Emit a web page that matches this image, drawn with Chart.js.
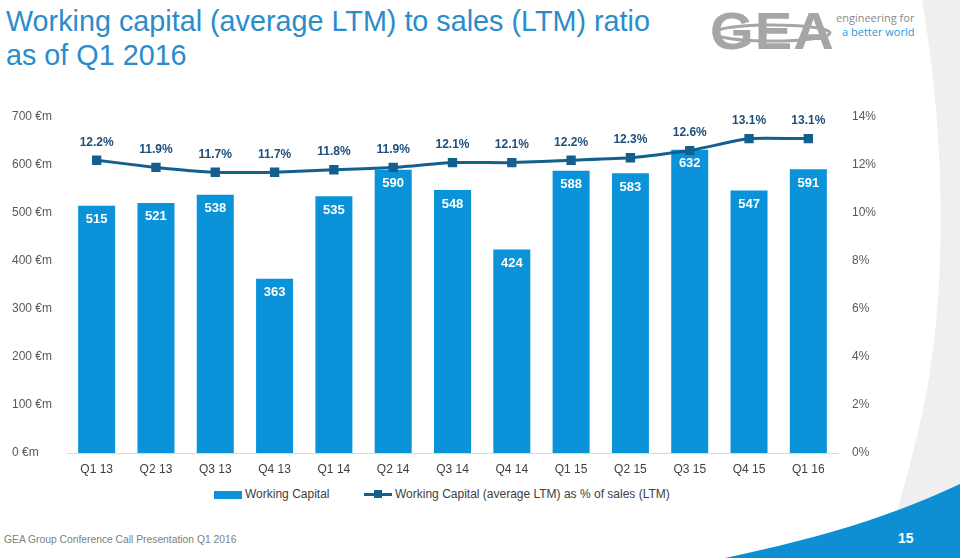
<!DOCTYPE html>
<html>
<head>
<meta charset="utf-8">
<script src="https://cdn.jsdelivr.net/npm/chart.js@4.4.1/dist/chart.umd.min.js"></script>
<style>
  html, body { margin: 0; padding: 0; background: #fff; }
  body { width: 960px; height: 558px; position: relative; overflow: hidden; font-family: "Liberation Sans", Arial, sans-serif; }
  #bg { position: absolute; left: 0; top: 0; }
  #title { position: absolute; left: 6px; top: 4px; font-size: 30px; line-height: 34px; color: #2a8ccb; transform-origin: 0 0; white-space: nowrap; }
  #logo { position: absolute; left: 710px; top: 5px; font-size: 52px; font-weight: bold; color: #a6a6a6; letter-spacing: 1px; line-height: 52px; transform-origin: 0 0; transform: scaleX(1.08); }
  #tag { position: absolute; left: 836px; top: 11px; font-size: 11px; line-height: 14px; color: #8a8a8a; text-align: right; font-family: "Open Sans", sans-serif; }
  #tag span { color: #1e9ad6; }
  #wrap { position: absolute; left: 0; top: 95px; width: 900px; height: 383px; }
  #legend { position: absolute; top: 486px; left: 0; width: 960px; font-size: 12px; color: #404040; }
  .item { position: absolute; top: 0; white-space: nowrap; line-height: 16px; }
  .sw { display: inline-block; vertical-align: middle; margin-right: 3px; position: relative; }
  #footer { position: absolute; left: 4px; top: 534px; font-size: 10.3px; color: #808080; }
  #page { position: absolute; left: 898px; top: 530px; font-size: 14px; font-weight: bold; color: #fff; }
</style>
</head>
<body>
<svg id="bg" width="960" height="558">
  <path d="M922,0 C948,150 945,300 925,400 C915,450 900,500 885,558 L960,558 L960,0 Z" fill="#efefef"/>
  <path d="M725,558 C800,542 880,522 960,484 L960,558 Z" fill="#0f8fd3"/>
  <ellipse cx="772" cy="33" rx="58" ry="8" fill="none" stroke="#a6a6a6" stroke-width="3"/>
</svg>
<div id="title">Working capital (average LTM) to sales (LTM) ratio<br>as of Q1 2016</div>
<div id="logo">GEA</div>
<div id="tag">engineering for<br><span>a better world</span></div>
<div id="wrap"><canvas id="chart"></canvas></div>
<div id="legend">
  <div class="item" style="left:214px"><span class="sw" style="width:28px;height:8px;background:#0a93d8"></span>Working Capital</div>
  <div class="item" style="left:364px"><span class="sw" style="width:28px;height:3px;background:#13608f"><span style="position:absolute;left:10px;top:-3px;width:8px;height:8px;background:#13608f"></span></span>Working Capital (average LTM) as % of sales (LTM)</div>
</div>
<div id="footer">GEA Group Conference Call Presentation Q1 2016</div>
<div id="page">15</div>
<script>
const quarters = ['Q1 13', 'Q2 13', 'Q3 13', 'Q4 13', 'Q1 14', 'Q2 14', 'Q3 14', 'Q4 14', 'Q1 15', 'Q2 15', 'Q3 15', 'Q4 15', 'Q1 16'];
const workingCapital = [515, 521, 538, 363, 535, 590, 548, 424, 588, 583, 632, 547, 591];
const wcRatio = [12.2, 11.9, 11.7, 11.7, 11.8, 11.9, 12.1, 12.1, 12.2, 12.3, 12.6, 13.1, 13.1];
const leftTicks = [0, 100, 200, 300, 400, 500, 600, 700];
const rightTicks = [0, 2, 4, 6, 8, 10, 12, 14];

const barColor = '#0a93d8';
const lineColor = '#13608f';
const tickFont = { size: 12, family: '"Liberation Sans", Arial, sans-serif' };

// fit title width to the reference
const title = document.getElementById('title');
title.style.transform = 'scaleX(' + (644 / title.scrollWidth) + ')';

const valueLabels = {
    id: 'valueLabels',
    afterDatasetsDraw(chart) {
        const ctx = chart.ctx;
        ctx.save();
        ctx.textAlign = 'center';
        ctx.textBaseline = 'middle';
        chart.getDatasetMeta(1).data.forEach((bar, i) => {
            ctx.font = 'bold 13px "Liberation Sans", Arial, sans-serif';
            ctx.fillStyle = '#ffffff';
            ctx.fillText(workingCapital[i], bar.x, bar.y + 14);
        });
        chart.getDatasetMeta(0).data.forEach((pt, i) => {
            ctx.font = 'bold 12px "Liberation Sans", Arial, sans-serif';
            ctx.fillStyle = '#1d4f7c';
            ctx.fillText(wcRatio[i].toFixed(1) + '%', pt.x, pt.y - 18);
        });
        ctx.restore();
    }
};

new Chart(document.getElementById('chart'), {
    data: {
        labels: quarters,
        datasets: [
            {
                type: 'line',
                label: 'Working Capital (average LTM) as % of sales (LTM)',
                data: wcRatio,
                yAxisID: 'y1',
                borderColor: lineColor,
                backgroundColor: lineColor,
                borderWidth: 3,
                pointStyle: 'rect',
                pointRadius: 4.5,
                tension: 0.15,
                order: 0
            },
            {
                type: 'bar',
                label: 'Working Capital',
                data: workingCapital,
                yAxisID: 'y',
                backgroundColor: barColor,
                barPercentage: 0.78,
                categoryPercentage: 0.8,
                order: 1
            }
        ]
    },
    options: {
        responsive: true,
        maintainAspectRatio: false,
        animation: false,
        layout: { padding: { left: 12, top: 22, right: 0, bottom: 0 } },
        plugins: { legend: { display: false }, tooltip: { enabled: false } },
        scales: {
            x: {
                grid: { display: false },
                border: { display: true, color: '#d9d9d9', width: 1 },
                ticks: { color: '#404040', font: tickFont, padding: 1 },
                afterFit(s) { s.height = 25; }
            },
            y: {
                position: 'left',
                min: 0, max: 700,
                afterBuildTicks(s) { s.ticks = leftTicks.map(v => ({ value: v })); },
                grid: { display: false, drawTicks: false },
                border: { display: false },
                ticks: {
                    crossAlign: 'far',
                    color: '#595959',
                    font: tickFont,
                    callback: v => v + ' €m'
                },
                afterFit(s) { s.width = 55; }
            },
            y1: {
                position: 'right',
                min: 0, max: 14,
                afterBuildTicks(s) { s.ticks = rightTicks.map(v => ({ value: v })); },
                grid: { display: false, drawTicks: false },
                border: { display: false },
                ticks: {
                    color: '#595959',
                    padding: 14,
                    font: tickFont,
                    callback: v => v + '%'
                },
                afterFit(s) { s.width = 62; }
            }
        }
    },
    plugins: [valueLabels]
});
</script>
</body>
</html>
